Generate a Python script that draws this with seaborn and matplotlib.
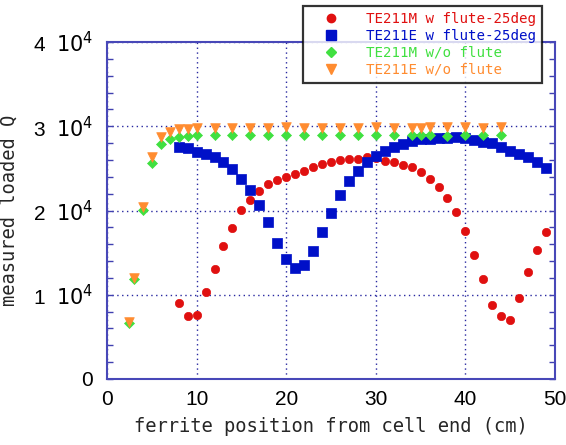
import matplotlib
matplotlib.use("Agg")
import matplotlib.pyplot as plt
import seaborn as sns
import pandas as pd
from matplotlib.lines import Line2D
from matplotlib.ticker import MultipleLocator

# ---- data ----
x_flute = list(range(8, 50))
q_m_flute = [9050, 7440, 7630, 10290, 13060, 15820, 17900, 20050, 21300, 22280,
             23150, 23600, 24010, 24330, 24730, 25150, 25560, 25800, 26000, 26130,
             26130, 26400, 26200, 25870, 25760, 25450, 25120, 24530, 23780, 22830,
             21540, 19780, 17600, 14720, 11830, 8780, 7480, 6960, 9570, 12660,
             15310, 17410]
q_e_flute = [27570, 27460, 26980, 26670, 26390, 25720, 24930, 23740, 22430, 20630,
             18600, 16100, 14280, 13230, 13530, 15230, 17450, 19740, 21840, 23500,
             24690, 25800, 26490, 27080, 27500, 27870, 28200, 28470, 28500, 28650,
             28650, 28730, 28570, 28370, 28170, 27970, 27570, 27100, 26710, 26390,
             25800, 25010]
x_noflute = [2.5, 3, 4, 5, 6, 7, 8, 9, 10, 12, 14, 16, 18, 20, 22, 24, 26, 28,
             30, 32, 34, 35, 36, 38, 40, 42, 44]
q_m_noflute = [6700, 11900, 20060, 25600, 27950, 28450, 28770, 28880, 28960, 28960,
               28960, 28960, 28960, 28960, 28960, 28960, 28960, 28960, 28960, 28960,
               28960, 28960, 28960, 28880, 28960, 28960, 28960]
q_e_noflute = [6800, 11990, 20450, 26300, 28700, 29300, 29650, 29700, 29850, 29780,
               29780, 29780, 29780, 29900, 29830, 29780, 29830, 29830, 29950, 29830,
               29830, 29830, 29950, 29870, 29950, 29830, 29950]

labels = ["TE211M w flute-25deg", "TE211E w flute-25deg",
          "TE211M w/o flute", "TE211E w/o flute"]
colors = ["#e01010", "#0010c8", "#40e040", "#ff8c30"]
markers = ["o", "s", "D", "v"]
sizes = [36, 46, 26, 48]

x_ticks = [0, 10, 20, 30, 40, 50]
y_ticks = [0, 10000, 20000, 30000, 40000]
y_ticklabels = ["0", r"1  $10^4$", r"2  $10^4$", r"3  $10^4$", r"4  $10^4$"]

sns.set_theme(style="white")
plt.rcParams["font.family"] = ["Liberation Sans", "DejaVu Sans"]

fig = plt.figure(figsize=(5.66, 4.45), dpi=100)
ax = fig.add_axes([107/566, 66/445, 448/566, 337/445])

series = [(x_flute, q_m_flute), (x_flute, q_e_flute),
          (x_noflute, q_m_noflute), (x_noflute, q_e_noflute)]
for i, (xs, ys) in enumerate(series):
    df = pd.DataFrame({"x": xs, "q": ys})
    sns.scatterplot(data=df, x="x", y="q", ax=ax, color=colors[i],
                    marker=markers[i], s=sizes[i], edgecolor=colors[i],
                    linewidth=0.5, zorder=3 + i, legend=False)

ax.set_xlim(0, 50)
ax.set_ylim(0, 40000)
ax.set_xticks(x_ticks)
ax.set_yticks(y_ticks)
ax.set_yticklabels(y_ticklabels)
ax.yaxis.set_minor_locator(MultipleLocator(2000))
ax.tick_params(axis="both", which="major", labelsize=15, colors="black",
               labelcolor="black")
ax.tick_params(axis="x", which="major", length=0, pad=8)
ax.tick_params(axis="y", which="both", direction="in", left=True, right=True,
               length=4, width=1, color="#4040b0", pad=10)

ax.grid(True, which="major", color="#2828a0", linestyle=(0, (1, 2.5)),
        linewidth=1.0)
for sp in ax.spines.values():
    sp.set_color("#4848b8")
    sp.set_linewidth(1.5)

mono = ["DejaVu Sans Mono"]
ax.set_xlabel("ferrite position from cell end (cm)", fontsize=13.5,
              family=mono, labelpad=6)
ax.set_ylabel("measured loaded Q", fontsize=13.5, family=mono, labelpad=10)

handles = [Line2D([], [], linestyle="none", marker=markers[i], color=colors[i],
                  markersize=[6, 7, 5.5, 7][i]) for i in range(4)]
leg = ax.legend(handles, labels, loc="upper left",
                bbox_to_anchor=(0.4375, 0.875, 0.5335, 0.232), mode="expand",
                borderaxespad=0, frameon=True, fancybox=False, edgecolor="black",
                prop={"family": mono, "size": 10.2}, handletextpad=1.0,
                labelspacing=0.2, borderpad=0.45, handlelength=3.0)
leg.get_frame().set_linewidth(1.6)
leg.set_zorder(20)
for t, c in zip(leg.get_texts(), colors):
    t.set_color(c)

fig.savefig("out.png", dpi=100)
